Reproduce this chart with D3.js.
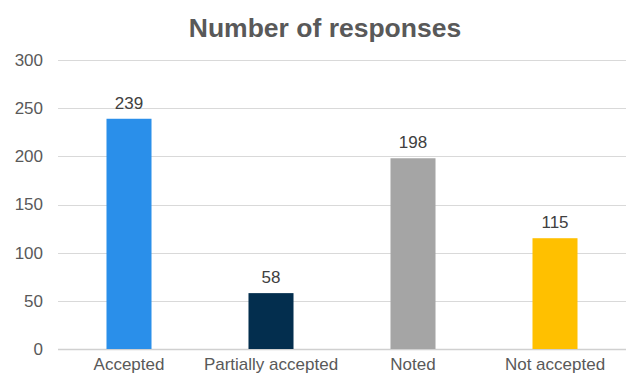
<!DOCTYPE html>
<html><head><meta charset="utf-8">
<script src="https://cdn.jsdelivr.net/npm/d3@7"></script>
<style>body{margin:0;background:#fff;}svg{display:block;font-family:"Liberation Sans",Arial,sans-serif;}</style>
</head><body>
<svg id="c" width="631" height="376"></svg>
<script>
const categories = ["Accepted", "Partially accepted", "Noted", "Not accepted"];
const values = [239, 58, 198, 115];
const colors = ["#2A8FEA", "#032E4E", "#A5A5A5", "#FFC000"];
const yTicks = [0, 50, 100, 150, 200, 250, 300];
const title = "Number of responses";

const svg = d3.select("#c");
const m = {left: 58, right: 5, top: 60, bottom: 27};
const W = 631, H = 376;
const x = d3.scaleBand().domain(categories).range([m.left, W - m.right])
  .paddingInner(0.683).paddingOuter(0.3415);
const y = d3.scaleLinear().domain([0, 300]).range([H - m.bottom, m.top]);

// gridlines
svg.append("g").selectAll("line").data(yTicks).join("line")
  .attr("x1", m.left).attr("x2", W - m.right)
  .attr("y1", d => Math.round(y(d)) + 0.5).attr("y2", d => Math.round(y(d)) + 0.5)
  .attr("stroke", d => d === 0 ? "#D0D0D0" : "#D9D9D9").attr("stroke-width", d => d === 0 ? 1.5 : 1);

// y axis labels
const yAxis = d3.axisLeft(y).tickValues(yTicks).tickSize(0).tickPadding(0);
const ga = svg.append("g").attr("transform", `translate(${m.left - 15},0)`).call(yAxis);
ga.select(".domain").remove();
ga.selectAll("text").attr("fill", "#595959").attr("font-size", 17).attr("font-family", "Liberation Sans, Arial, sans-serif");

// bars
svg.append("g").selectAll("rect").data(values).join("rect")
  .attr("x", (d, i) => x(categories[i]))
  .attr("width", x.bandwidth())
  .attr("y", d => y(d))
  .attr("height", d => y(0) - y(d))
  .attr("fill", (d, i) => colors[i]);

// value labels
svg.append("g").selectAll("text").data(values).join("text")
  .attr("x", (d, i) => x(categories[i]) + x.bandwidth() / 2)
  .attr("y", d => y(d) - 10)
  .attr("text-anchor", "middle")
  .attr("font-size", 17).attr("fill", "#404040")
  .text(d => d);

// x axis labels
const xAxis = d3.axisBottom(x).tickSize(0).tickPadding(0);
const gx = svg.append("g").attr("transform", `translate(0,${y(0) + 9})`).call(xAxis);
gx.select(".domain").remove();
gx.selectAll("text").attr("fill", "#595959").attr("font-size", 17).attr("font-family", "Liberation Sans, Arial, sans-serif");

// title
svg.append("text").attr("x", 325).attr("y", 37).attr("text-anchor", "middle")
  .attr("font-size", 26.5).attr("font-weight", "bold").attr("fill", "#595959")
  .text(title);
</script>
</body></html>
